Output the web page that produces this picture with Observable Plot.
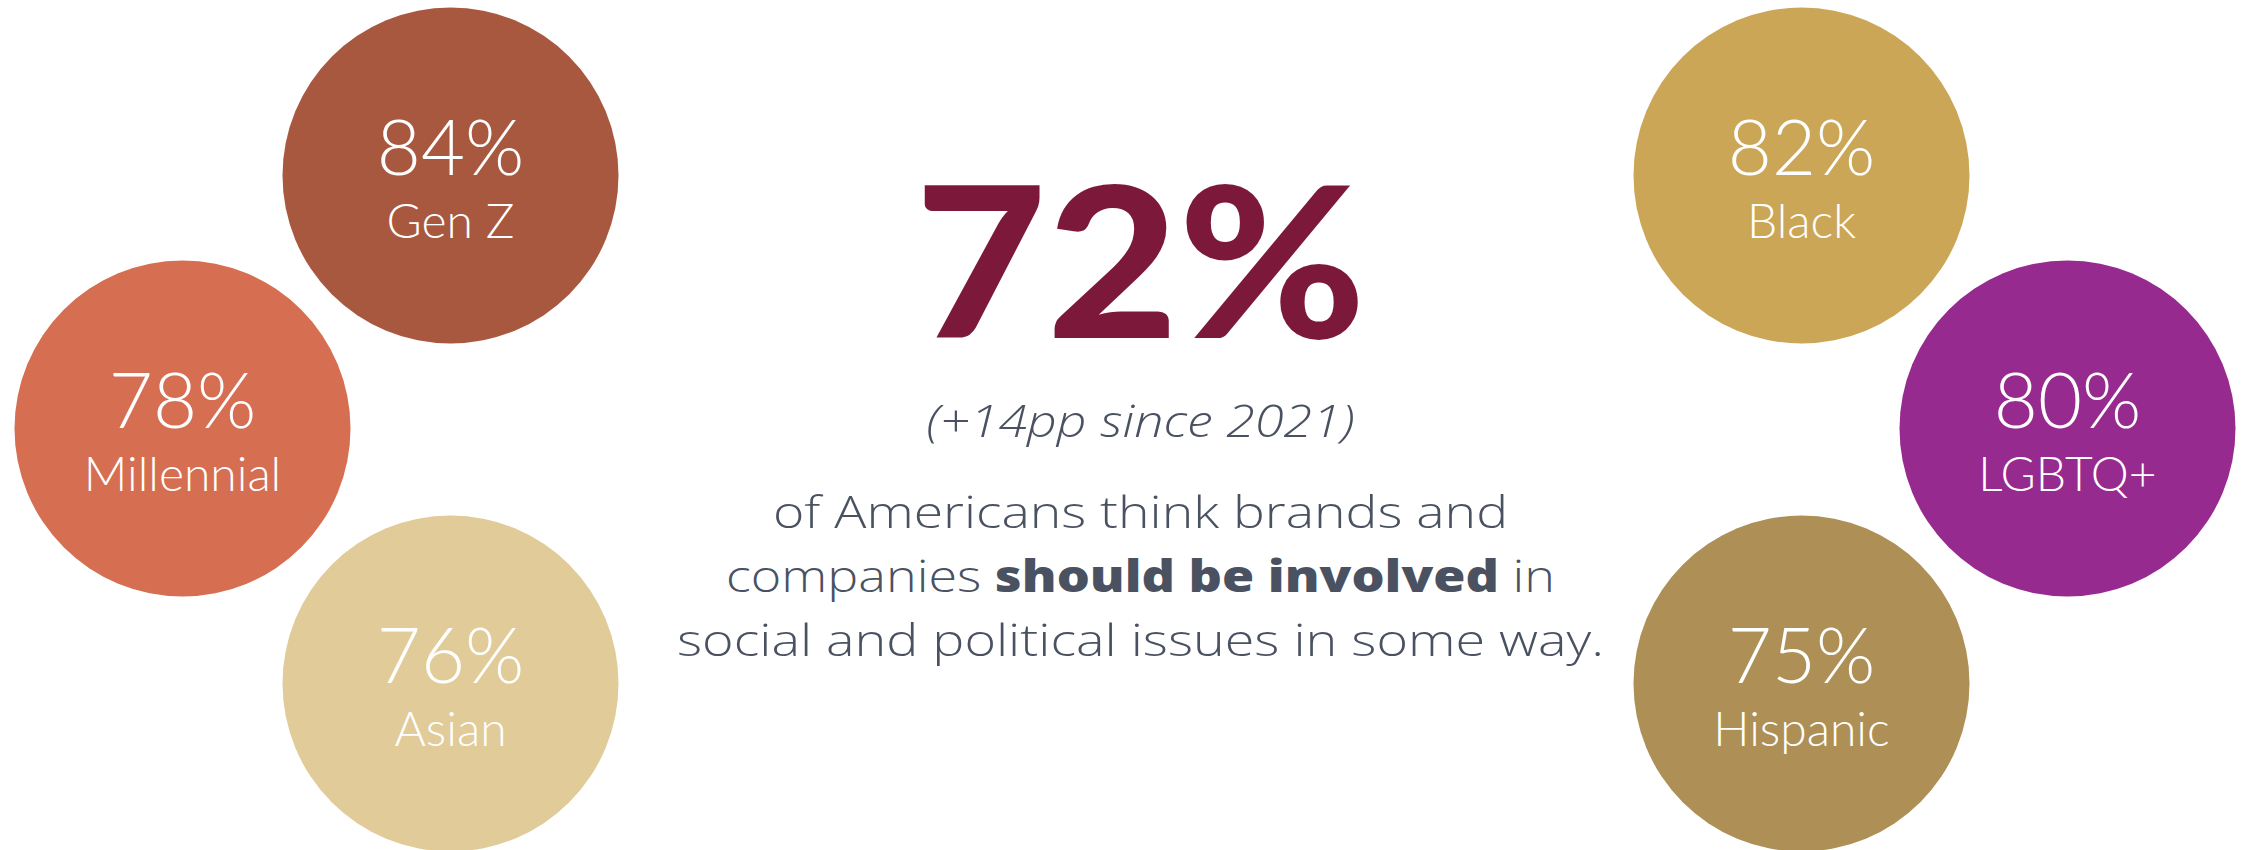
<!DOCTYPE html>
<html><head><meta charset="utf-8">
<script src="https://cdn.jsdelivr.net/npm/d3@7"></script>
<script src="https://cdn.jsdelivr.net/npm/@observablehq/plot@0.6"></script>
<style>
html,body{margin:0;padding:0;background:#fff;}
#chart svg{display:block;}
</style></head><body><div id="chart"></div>
<script>
// ---- data ----
const groups = ["Gen Z", "Millennial", "Asian", "Black", "LGBTQ+", "Hispanic"];
const shares = [84, 78, 76, 82, 80, 75];
const headlineShare = 72;
const changeNote = "(+14pp since 2021)";
const bodyLines = ["of Americans think brands and", "companies should be involved in", "social and political issues in some way."];
const boldPhrase = "should be involved";

// ---- style / layout ----
const groupColors = ["#A95840", "#D66E52", "#E0CB99", "#CBA657", "#962A8F", "#AE9056"];
const slotX = [450, 182, 450, 1801, 2067, 1801];
const slotY = [175, 428, 683, 175, 428, 683];
const W = 2244, H = 850, R = 168;
const CX = 1140;
const headSize = 210, noteSize = 45, bodySize = 44;
const headBase = 337, noteBase = 436, bodyBase = [527, 591, 655];
const headWidth = 451, noteWidth = 428, bodyWidths = [735, 829, 927];
const bodyFont = "'Open Sans', Lato, sans-serif";

const circles = groups.map((g, i) => ({group: g, share: shares[i], cx: slotX[i], cy: slotY[i]}));
const body = bodyLines.map((t, i) => ({t, y: bodyBase[i] - 0.32 * bodySize}));

const plot = Plot.plot({
  width: W, height: H, margin: 0,
  x: {domain: [0, W], range: [0, W], axis: null},
  y: {domain: [0, H], range: [0, H], axis: null},
  color: {domain: groups, range: groupColors},
  style: {background: "#fff", fontFamily: "Lato, sans-serif"},
  marks: [
    Plot.dot(circles, {x: "cx", y: "cy", r: R, fill: "group"}),
    Plot.text(circles, {x: "cx", y: "cy", text: d => d.share + "%", fill: "white", fontSize: 76, fontWeight: 300, dy: -25}),
    Plot.text(circles, {x: "cx", y: "cy", text: "group", fill: "white", fontSize: 48, fontWeight: 300, dy: 47}),
    Plot.text([headlineShare], {x: () => CX, y: () => headBase - 0.32 * headSize, text: d => d + "%", fontSize: headSize, fontWeight: 900, fill: "#7C1839"}),
    Plot.text([changeNote], {x: () => CX, y: () => noteBase - 0.32 * noteSize, text: d => d, fontSize: noteSize, fontWeight: 300, fontStyle: "italic", fontFamily: bodyFont, fill: "#4A5262"}),
    Plot.text(body, {x: () => CX, y: "y", text: "t", fontSize: bodySize, fontWeight: 300, fontFamily: bodyFont, fill: "#4A5262"})
  ]
});

// bold phrase inside line 2, and widths matching the original typography
d3.select(plot).selectAll("text").each(function() {
  const el = this;
  const s = el.textContent;
  if (s === bodyLines[1]) {
    const i = s.indexOf(boldPhrase);
    el.textContent = "";
    const parts = [[s.slice(0, i), 300], [boldPhrase, 800], [s.slice(i + boldPhrase.length), 300]];
    for (const [txt, w] of parts) {
      const ts = document.createElementNS("http://www.w3.org/2000/svg", "tspan");
      ts.textContent = txt;
      ts.setAttribute("font-weight", w);
      el.appendChild(ts);
    }
  }
  const bi = bodyLines.indexOf(s);
  if (bi >= 0) { el.setAttribute("textLength", bodyWidths[bi]); el.setAttribute("lengthAdjust", "spacingAndGlyphs"); }
  if (s === changeNote) { el.setAttribute("textLength", noteWidth); el.setAttribute("lengthAdjust", "spacingAndGlyphs"); }
  if (s === headlineShare + "%") { el.setAttribute("textLength", headWidth); el.setAttribute("lengthAdjust", "spacingAndGlyphs"); }
});

document.getElementById("chart").appendChild(plot);
</script></body></html>
